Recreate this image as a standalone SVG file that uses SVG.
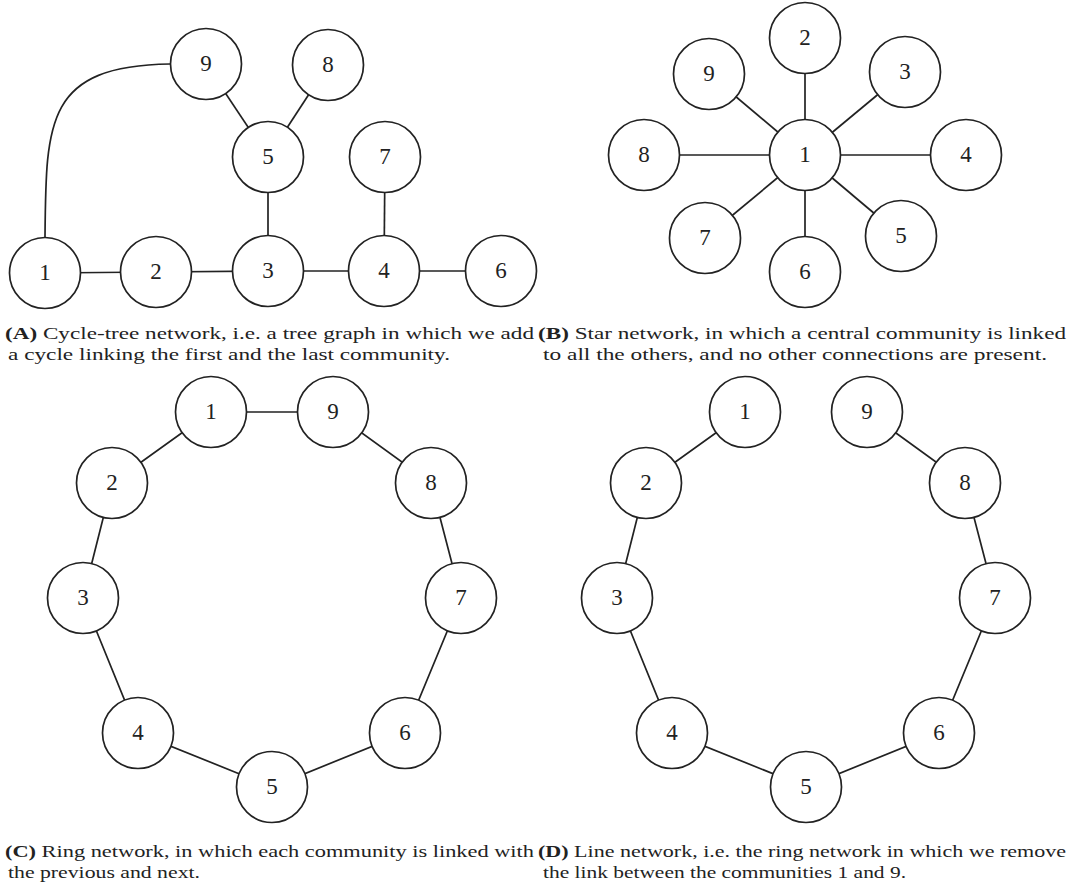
<svg xmlns="http://www.w3.org/2000/svg" width="1067" height="885" viewBox="0 0 1067 885">
<style>
.e{stroke:#222;stroke-width:1.7;fill:none}
.n circle{fill:#fff;stroke:#222;stroke-width:1.7}
.n text{font-family:"Liberation Serif","DejaVu Serif",serif;font-size:23px;fill:#222;text-anchor:middle}
.cap{font-family:"Liberation Serif","DejaVu Serif",serif;font-size:17px;fill:#222}
.cap tspan.b{font-weight:bold}
</style>
<rect width="1067" height="885" fill="#fff"/>
<g id="connectors">
<path class="e" d="M45,237 C46,120 46,66 170,64"/>
<line class="e" x1="45" y1="273" x2="156" y2="272"/>
<line class="e" x1="156" y1="272" x2="268" y2="271"/>
<line class="e" x1="268" y1="271" x2="384" y2="271"/>
<line class="e" x1="384" y1="271" x2="501" y2="271"/>
<line class="e" x1="268" y1="271" x2="268" y2="157"/>
<line class="e" x1="385" y1="157" x2="384" y2="271"/>
<line class="e" x1="206" y1="64" x2="268" y2="157"/>
<line class="e" x1="328" y1="65" x2="268" y2="157"/>
<line class="e" x1="805" y1="155" x2="805" y2="38"/>
<line class="e" x1="805" y1="155" x2="905" y2="72"/>
<line class="e" x1="805" y1="155" x2="966" y2="155"/>
<line class="e" x1="805" y1="155" x2="901" y2="236"/>
<line class="e" x1="805" y1="155" x2="805" y2="272"/>
<line class="e" x1="805" y1="155" x2="705" y2="238"/>
<line class="e" x1="805" y1="155" x2="644" y2="155"/>
<line class="e" x1="805" y1="155" x2="709" y2="74"/>
<polyline class="e" points="211,412 333,412 431,483 461,598 405,733 272,787 138,733 83,598 112,483 211,412"/>
<polyline class="e" points="745,412 646,483 617,598 672,733 806,787 939,733 995,598 965,483 867,412"/>
</g>
<g id="A-1" class="n"><circle cx="45" cy="273" r="35.5"/><text x="45" y="280">1</text></g>
<g id="A-2" class="n"><circle cx="156" cy="272" r="35.5"/><text x="156" y="279">2</text></g>
<g id="A-3" class="n"><circle cx="268" cy="271" r="35.5"/><text x="268" y="278">3</text></g>
<g id="A-4" class="n"><circle cx="384" cy="271" r="35.5"/><text x="384" y="278">4</text></g>
<g id="A-6" class="n"><circle cx="501" cy="271" r="35.5"/><text x="501" y="278">6</text></g>
<g id="A-5" class="n"><circle cx="268" cy="157" r="35.5"/><text x="268" y="164">5</text></g>
<g id="A-7" class="n"><circle cx="385" cy="157" r="35.5"/><text x="385" y="164">7</text></g>
<g id="A-9" class="n"><circle cx="206" cy="64" r="35.5"/><text x="206" y="71">9</text></g>
<g id="A-8" class="n"><circle cx="328" cy="65" r="35.5"/><text x="328" y="72">8</text></g>

<g id="B-1" class="n"><circle cx="805" cy="155" r="35.5"/><text x="805" y="162">1</text></g>
<g id="B-2" class="n"><circle cx="805" cy="38" r="35.5"/><text x="805" y="45">2</text></g>
<g id="B-3" class="n"><circle cx="905" cy="72" r="35.5"/><text x="905" y="79">3</text></g>
<g id="B-4" class="n"><circle cx="966" cy="155" r="35.5"/><text x="966" y="162">4</text></g>
<g id="B-5" class="n"><circle cx="901" cy="236" r="35.5"/><text x="901" y="243">5</text></g>
<g id="B-6" class="n"><circle cx="805" cy="272" r="35.5"/><text x="805" y="279">6</text></g>
<g id="B-7" class="n"><circle cx="705" cy="238" r="35.5"/><text x="705" y="245">7</text></g>
<g id="B-8" class="n"><circle cx="644" cy="155" r="35.5"/><text x="644" y="162">8</text></g>
<g id="B-9" class="n"><circle cx="709" cy="74" r="35.5"/><text x="709" y="81">9</text></g>

<g id="C-1" class="n"><circle cx="211" cy="412" r="35.5"/><text x="211" y="419">1</text></g>
<g id="C-9" class="n"><circle cx="333" cy="412" r="35.5"/><text x="333" y="419">9</text></g>
<g id="C-2" class="n"><circle cx="112" cy="483" r="35.5"/><text x="112" y="490">2</text></g>
<g id="C-8" class="n"><circle cx="431" cy="483" r="35.5"/><text x="431" y="490">8</text></g>
<g id="C-3" class="n"><circle cx="83" cy="598" r="35.5"/><text x="83" y="605">3</text></g>
<g id="C-7" class="n"><circle cx="461" cy="598" r="35.5"/><text x="461" y="605">7</text></g>
<g id="C-4" class="n"><circle cx="138" cy="733" r="35.5"/><text x="138" y="740">4</text></g>
<g id="C-6" class="n"><circle cx="405" cy="733" r="35.5"/><text x="405" y="740">6</text></g>
<g id="C-5" class="n"><circle cx="272" cy="787" r="35.5"/><text x="272" y="794">5</text></g>

<g id="D-1" class="n"><circle cx="745" cy="412" r="35.5"/><text x="745" y="419">1</text></g>
<g id="D-9" class="n"><circle cx="867" cy="412" r="35.5"/><text x="867" y="419">9</text></g>
<g id="D-2" class="n"><circle cx="646" cy="483" r="35.5"/><text x="646" y="490">2</text></g>
<g id="D-8" class="n"><circle cx="965" cy="483" r="35.5"/><text x="965" y="490">8</text></g>
<g id="D-3" class="n"><circle cx="617" cy="598" r="35.5"/><text x="617" y="605">3</text></g>
<g id="D-7" class="n"><circle cx="995" cy="598" r="35.5"/><text x="995" y="605">7</text></g>
<g id="D-4" class="n"><circle cx="672" cy="733" r="35.5"/><text x="672" y="740">4</text></g>
<g id="D-6" class="n"><circle cx="939" cy="733" r="35.5"/><text x="939" y="740">6</text></g>
<g id="D-5" class="n"><circle cx="806" cy="787" r="35.5"/><text x="806" y="794">5</text></g>

<g id="captions">
<text class="cap" x="5" y="339" textLength="529" lengthAdjust="spacingAndGlyphs"><tspan class="b">(A)</tspan> Cycle-tree network, i.e.  a tree graph in which we add</text>
<text class="cap" x="8" y="360" textLength="442" lengthAdjust="spacingAndGlyphs">a cycle linking the first and the last community.</text>
<text class="cap" x="538" y="339" textLength="528" lengthAdjust="spacingAndGlyphs"><tspan class="b">(B)</tspan> Star network, in which a central community is linked</text>
<text class="cap" x="543" y="360" textLength="504" lengthAdjust="spacingAndGlyphs">to all the others, and no other connections are present.</text>
<text class="cap" x="5" y="857" textLength="529" lengthAdjust="spacingAndGlyphs"><tspan class="b">(C)</tspan> Ring network, in which each community is linked with</text>
<text class="cap" x="8" y="878" textLength="192" lengthAdjust="spacingAndGlyphs">the previous and next.</text>
<text class="cap" x="538" y="857" textLength="528" lengthAdjust="spacingAndGlyphs"><tspan class="b">(D)</tspan> Line network, i.e.  the ring network in which we remove</text>
<text class="cap" x="543" y="878" textLength="363" lengthAdjust="spacingAndGlyphs">the link between the communities 1 and 9.</text>
</g>
</svg>
